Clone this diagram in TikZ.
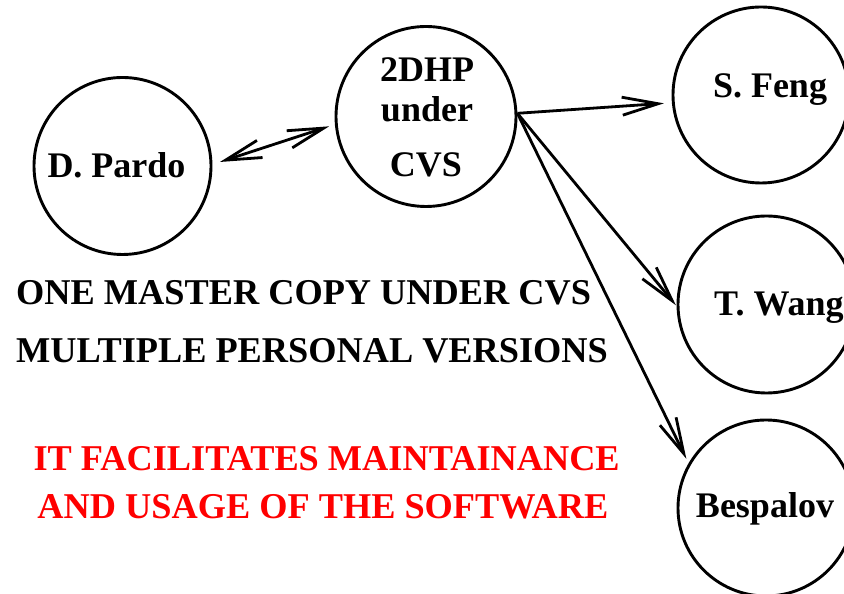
\documentclass[tikz,border=0pt]{standalone}
\usepackage{fontspec}
\setmainfont{Liberation Serif}
\usetikzlibrary{arrows.meta,calc}

\tikzset{
  person/.style={circle, draw, line width=2.9pt, minimum size=#1, inner sep=0pt},
  whotext/.style={font=\fontsize{36}{40}\selectfont\bfseries, inner sep=0pt, anchor=base},
  notetext/.style={font=\fontsize{36.3}{40}\selectfont\bfseries, inner sep=0pt, anchor=base west},
  link/.style={line width=2.8pt, -{Straight Barb[length=36pt,width=18pt]}},
  dlink/.style={line width=2.8pt, {Straight Barb[length=36pt,width=18pt]}-{Straight Barb[length=36pt,width=18pt]}},
}

\begin{document}
\begin{tikzpicture}[x=1pt,y=1pt]
  \useasboundingbox (0,0) rectangle (844,594);

  % people and the shared repository
  \node[person=177pt] (p) at (122.5,428) {};
  \node[person=180pt] (h) at (426,477.5) {};
  \node[person=176pt] (f) at (761,499) {};
  \node[person=177pt] (w) at (766.5,289.5) {};
  \node[person=176pt] (b) at (766,86) {};

  % names inside the circles
  \node[whotext] (pt) at ($(p.center)+(-6,-11.3)$) {D. Pardo};
  \node[whotext] (h1) at ($(h.center)+(1,34.8)$) {2DHP};
  \node[whotext] (h2) at ($(h.center)+(1,-5.5)$) {under};
  \node[whotext] (h3) at ($(h.center)+(0,-60.2)$) {CVS};
  \node[whotext] (ft) at ($(f.center)+(9,-2.3)$) {S. Feng};
  \node[whotext, anchor=base west] (wt) at ($(w.center)+(-52.5,-11.2)$) {T. Wang};
  \node[whotext] (bt) at ($(b.center)+(-1,-10)$) {Bespalov};

  % connectors
  \draw[dlink, shorten <=8pt, shorten >=6pt] (p.1.6) -- (h.185);
  \draw[link, shorten >=8pt] (h.2) -- (f.185);
  \draw[link, shorten >=1pt] (h.2) -- (w.181);
  \draw[link, shorten >=5pt] (h.2) -- (b.150);

  % notes
  \node[notetext] (n1) at (16,289) {ONE MASTER COPY UNDER CVS};
  \node[notetext] (n2) at (16,231.3) {MULTIPLE PERSONAL VERSIONS};
  \node[notetext, text=red] (n3) at (33.3,123) {IT FACILITATES MAINTAINANCE};
  \node[notetext, text=red] (n4) at (37.3,75.7) {AND USAGE OF THE SOFTWARE};
\end{tikzpicture}
\end{document}
